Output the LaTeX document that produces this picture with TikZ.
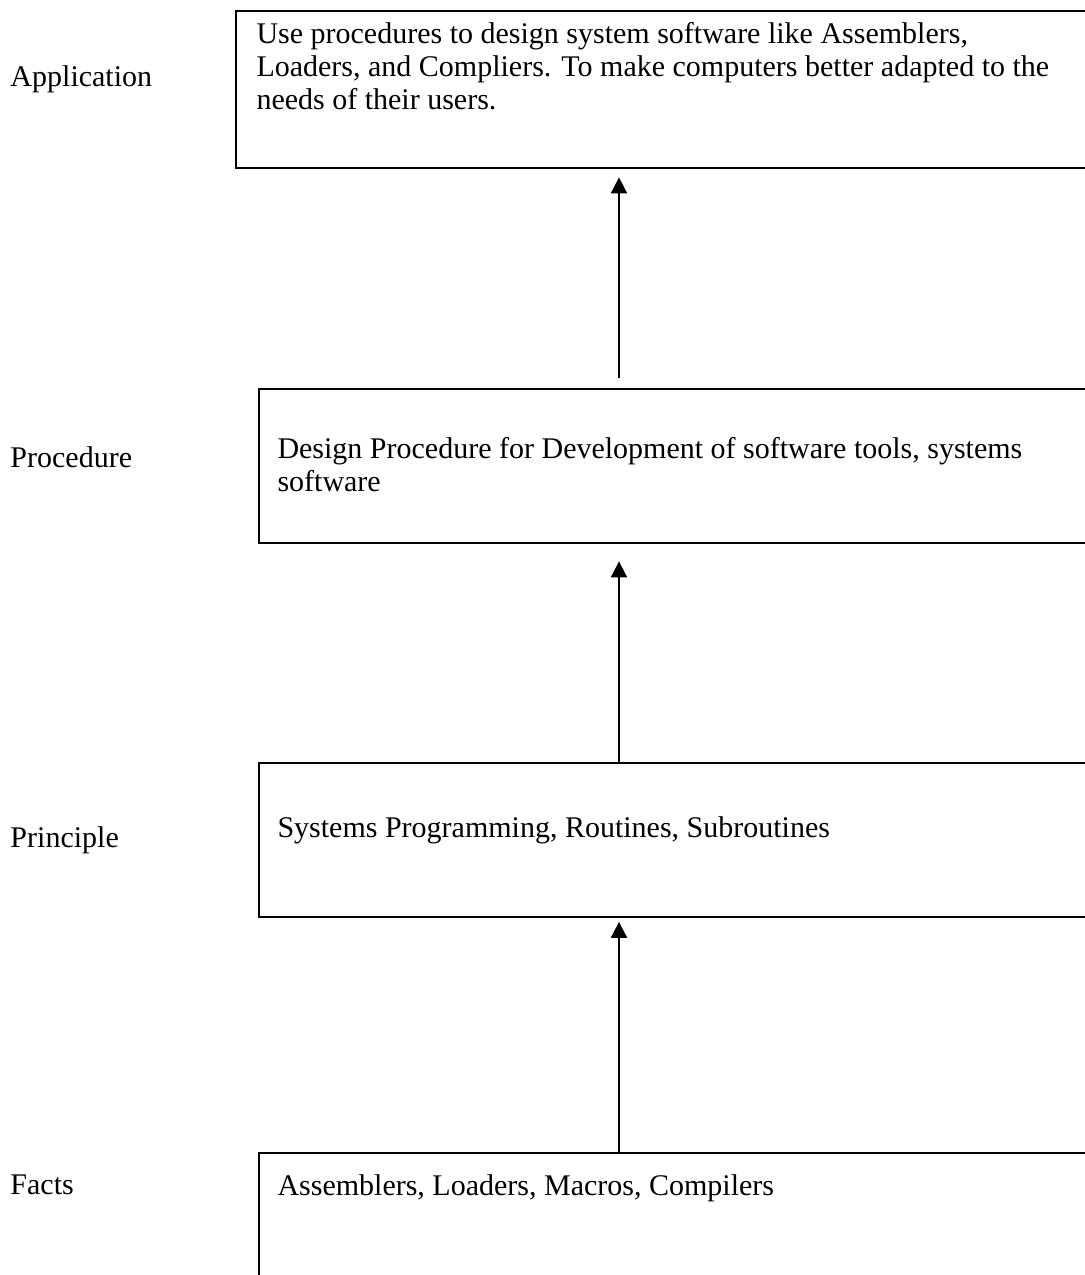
\documentclass[tikz,border=0pt]{standalone}
\usepackage{fontspec}
\setmainfont{Liberation Serif}
\usetikzlibrary{arrows.meta}

\begin{document}
\begin{tikzpicture}[
    x=0.4pt, y=-0.4pt,
    boks/.style={rectangle, draw=black, line width=0.75pt, anchor=north west,
        inner sep=0pt, minimum width=346pt},
    tekst/.style={anchor=base west, align=left, inner sep=0pt,
        font=\fontsize{12}{13.2}\selectfont},
    etikett/.style={anchor=base west, inner sep=0pt,
        font=\fontsize{12}{13.2}\selectfont},
    pil/.style={line width=0.75pt, -{Triangle[length=6.4pt, width=6.4pt]}}
    ]
\useasboundingbox (0,0) rectangle (1085,1275);
\clip (0,0) rectangle (1085,1275);

\coordinate (ax) at (619,0);

%Top level (base = last line)
\node[boks, minimum height=62.8pt] (app) at (235,10) {};
\node[tekst] (apptxt) at (256,109) {Use procedures to design system software like Assemblers,\\
    Loaders, and Compliers. To make computers better adapted to the\\
    needs of their users.};
\node[etikett] (applbl) at (10,86) {Application};

%Second level
\node[boks, minimum width=336.8pt, minimum height=61.6pt] (proc) at (258,388) {};
\node[tekst] (proctxt) at (277,491) {Design Procedure for Development of software tools, systems\\
    software};
\node[etikett] (proclbl) at (10,467) {Procedure};

%Third level
\node[boks, minimum width=336.8pt, minimum height=61.6pt] (prin) at (258,762) {};
\node[tekst] (printxt) at (277,837) {Systems Programming, Routines, Subroutines};
\node[etikett] (prinlbl) at (10,847) {Principle};

%Bottom level
\node[boks, minimum width=336.8pt, minimum height=60pt] (fact) at (258,1152) {};
\node[tekst] (facttxt) at (277,1195) {Assemblers, Loaders, Macros, Compilers};
\node[etikett] (factlbl) at (10,1194) {Facts};

%Arrows
\draw[pil, shorten <=4pt, shorten >=3.4pt] (proc.north -| ax) -- (app.south -| ax);
\draw[pil, shorten >=7pt] (prin.north -| ax) -- (proc.south -| ax);
\draw[pil, shorten >=1.6pt] (fact.north -| ax) -- (prin.south -| ax);
\end{tikzpicture}
\end{document}
